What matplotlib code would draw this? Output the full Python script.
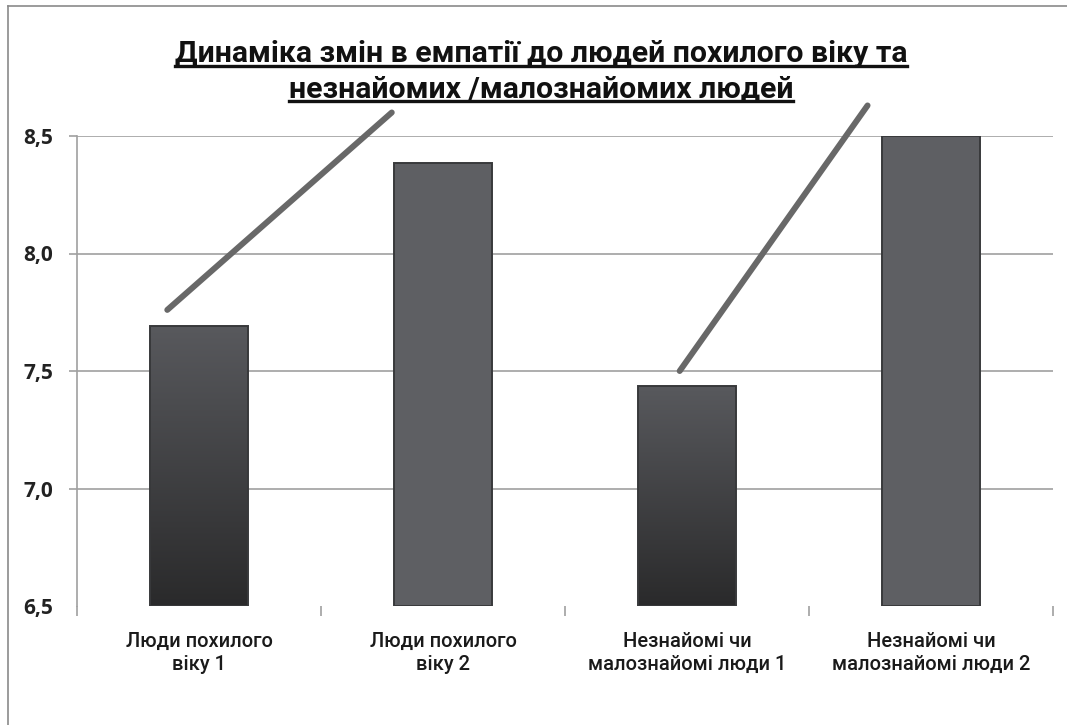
import numpy as np
import matplotlib
matplotlib.use("Agg")
import matplotlib.pyplot as plt
from matplotlib.lines import Line2D

# values
categories = ["Люди похилого\nвіку 1", "Люди похилого\nвіку 2",
              "Незнайомі чи\nмалознайомі люди 1", "Незнайомі чи\nмалознайомі люди 2"]
values = [7.69, 8.385, 7.435, 8.50]
yticks = [6.5, 7.0, 7.5, 8.0, 8.5]
ytick_labels = ["6,5", "7,0", "7,5", "8,0", "8,5"]
# the two decorative rising lines (start/end in data coords)
trend_x = [[-0.13, 0.79], [1.97, 2.74]]
trend_y = [[7.76, 8.60], [7.50, 8.63]]
title_lines = ["Динаміка змін в емпатії до людей похилого віку та",
               "незнайомих /малознайомих людей"]

W, H = 1067, 725
fig = plt.figure(figsize=(W / 100, H / 100), dpi=100)
ax = fig.add_axes([77 / W, 1 - 606 / H, (1053 - 77) / W, (606 - 136) / H])

x = np.arange(len(values))
bottom = yticks[0]
heights = [v - bottom for v in values]
dark = [True, False, True, False]
bars = ax.bar(x, heights, bottom=bottom, width=0.4, color="#5e5f63",
              edgecolor="#38393b", linewidth=1.4, zorder=3)

# vertical gradient on the darker bars
grad = np.linspace(0, 1, 256).reshape(-1, 1)
cmap = matplotlib.colors.LinearSegmentedColormap.from_list("g", ["#2a2a2b", "#58595d"])
for b, d in zip(bars, dark):
    if not d:
        continue
    x0, y0 = b.get_x(), b.get_y()
    im = ax.imshow(grad, cmap=cmap, origin="lower", aspect="auto",
                   extent=[x0, x0 + b.get_width(), y0, y0 + b.get_height()], zorder=3.5)
    im.set_clip_path(b)
    b.set_facecolor("none")
    b.set_zorder(4)

for tx, ty in zip(trend_x, trend_y):
    ax.plot(tx, ty, color="#686868", lw=4.3, solid_capstyle="round",
            zorder=5, clip_on=False)

ax.set_xlim(-0.5, len(values) - 0.5)
ax.set_ylim(6.5, 8.5)
ax.set_yticks(yticks)
ax.set_yticklabels(ytick_labels, fontfamily="Open Sans", fontweight="bold",
                   fontsize=15, color="#222222")
ax.yaxis.grid(True, color="#a0a0a0", lw=1.2, zorder=0)
ax.tick_params(axis="y", length=6, width=1.2, color="#a0a0a0", pad=11)
# no line or tick mark at the bottom value
ax.yaxis.get_gridlines()[0].set_visible(False)
ax.yaxis.get_major_ticks()[0].tick1line.set_visible(False)

ax.set_xticks(x)
ax.set_xticklabels(categories, fontfamily="Roboto", fontweight="medium",
                   fontsize=14.5, color="#1a1a1a", linespacing=1.25)
ax.set_xticks(np.arange(-0.5, len(values)), minor=True)
ax.tick_params(axis="x", which="major", length=0, pad=19)
ax.tick_params(axis="x", which="minor", length=7, width=1.2, color="#a0a0a0")

for s in ["top", "right", "bottom"]:
    ax.spines[s].set_visible(False)
ax.spines["left"].set_color("#a0a0a0")
ax.spines["left"].set_linewidth(1.2)

# outer chart frame (left and top edges visible)
fig.add_artist(Line2D([8 / W, 8 / W], [0, 1 - 6 / H], color="#8a8a8a", lw=1.2))
fig.add_artist(Line2D([8 / W, 1], [1 - 6 / H, 1 - 6 / H], color="#8a8a8a", lw=1.2))

# title with underline
baselines = [62, 97]
texts = []
for line, by in zip(title_lines, baselines):
    t = fig.text(541 / W, 1 - by / H, line, ha="center", va="baseline",
                 fontfamily="Roboto", fontweight="bold", fontsize=21.8,
                 color="#111111")
    texts.append(t)
fig.canvas.draw()
r = fig.canvas.get_renderer()
for t, by in zip(texts, baselines):
    bb = t.get_window_extent(r)
    yy = 1 - (by + 4) / H
    fig.add_artist(Line2D([bb.x0 / W, bb.x1 / W], [yy, yy], color="#111111", lw=2.4))

fig.savefig("out.png", dpi=100)
